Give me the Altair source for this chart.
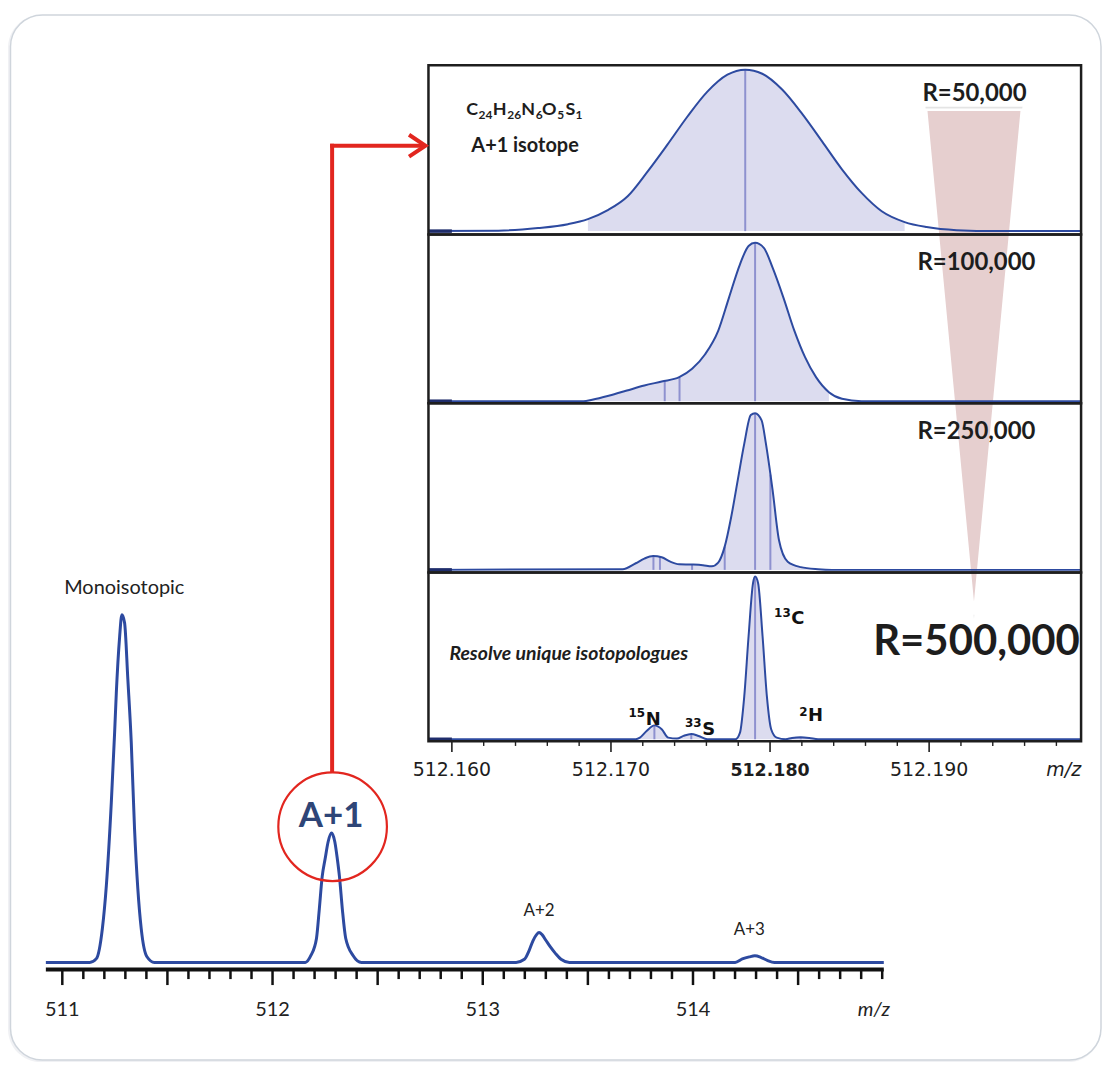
import altair as alt
import pandas as pd

# ---------------- data ----------------
# Main (low resolution) spectrum: m/z and relative intensity (%)
main_edge_mz = [510.9218, 514.9076]
mono_mz = [511.1303, 511.1621, 511.1905, 511.2095, 511.2332, 511.2488, 511.2569, 511.2725,
           511.2834, 511.2962, 511.3118, 511.3280, 511.3436, 511.3592, 511.3754, 511.4019, 511.4384]
mono_int = [0, 1.1, 9.7, 22.1, 46.1, 66.0, 77.5, 93.5, 100, 97.7, 81.4, 63.3, 38.4, 21.2, 9.7, 1.7, 0]
a1_mz = [512.1559, 512.1825, 512.2090, 512.2227, 512.2360, 512.2502, 512.2645, 512.2806,
         512.2962, 512.3081, 512.3185, 512.3318, 512.3483, 512.3829, 512.4232]
a1_int = [0, 2.0, 6.9, 15.5, 24.6, 29.8, 34.7, 37.2, 34.7, 29.8, 24.6, 15.5, 6.9, 2.0, 0]
a2_mz = [513.1583, 513.1981, 513.2204, 513.2393, 513.2559, 513.2678, 513.2820, 513.3009,
         513.3199, 513.3455, 513.3720, 513.4123]
a2_int = [0, 0.9, 3.4, 6.3, 8.0, 8.6, 8.0, 6.3, 4.6, 2.6, 0.9, 0]
a3_mz = [514.2005, 514.2346, 514.2678, 514.2943, 514.3246, 514.3531, 514.3877]
a3_int = [0, 1.0, 1.6, 1.9, 1.4, 0.6, 0]

main_ticks = [round(511.0 + 0.1 * i, 1) for i in range(40)]
main_label_vals = [511, 512, 513, 514]
main_labels = ["511", "512", "513", "514"]

# Inset: A+1 isotope at four resolving powers
res_labels = ["R=50,000", "R=100,000", "R=250,000", "R=500,000"]

p1_mz = [512.15853, 512.16291, 512.16542, 512.16730, 512.16855, 512.16980, 512.17105, 512.17231,
         512.17356, 512.17481, 512.17606, 512.17732, 512.17844, 512.17951, 512.18076, 512.18201,
         512.18327, 512.18452, 512.18577, 512.18702, 512.18846, 512.18984, 512.19172, 512.19423, 512.19955]
p1_int = [0, 0.3, 1.9, 4.3, 7.4, 13.0, 21.6, 37.0, 53.7, 71.0, 86.4, 96.9, 100, 97.5, 87.7, 72.8,
          55.6, 38.3, 23.5, 12.3, 5.6, 2.5, 0.6, 0, 0]
p1_fill = [512.16855, 512.18846]
p1_stick_mz = [512.17844]
p1_stick_int = [100]

p2_mz = [512.15853, 512.16596, 512.16827, 512.16882, 512.16991, 512.17100, 512.17210, 512.17319,
         512.17429, 512.17510, 512.17592, 512.17674, 512.17742, 512.17811, 512.17865, 512.17906,
         512.17961, 512.18016, 512.18084, 512.18152, 512.18220, 512.18289, 512.18370, 512.18452,
         512.18575, 512.19955]
p2_int = [0, 0, 0, 0.9, 3.5, 6.6, 9.7, 12.2, 14.9, 20.1, 29.1, 43.6, 64.2, 84.8, 96.2, 98.1,
          95.0, 82.7, 64.2, 43.9, 27.3, 14.9, 5.6, 1.5, 0, 0]
p2_fill = [512.16596, 512.18370]
p2_stick_mz = [512.17338, 512.17431, 512.17906]
p2_stick_int = [12.4, 14.9, 98.1]

p3_mz = [512.15853, 512.17073, 512.17156, 512.17210, 512.17265, 512.17319, 512.17373, 512.17429,
         512.17510, 512.17578, 512.17633, 512.17674, 512.17715, 512.17756, 512.17797, 512.17838,
         512.17879, 512.17906, 512.17947, 512.17974, 512.18016, 512.18056, 512.18111, 512.18193,
         512.18302, 512.18389, 512.19955]
p3_int = [0, 0.4, 4.1, 7.0, 8.6, 7.8, 5.1, 3.5, 3.3, 2.9, 2.2, 4.5, 14.4, 32.9, 55.6, 78.2,
          95.9, 97.1, 92.6, 78.2, 49.4, 18.5, 5.1, 1.7, 0.4, 0, 0]
p3_fill = [512.17073, 512.18302]
p3_stick_mz = [512.17267, 512.17308, 512.17510, 512.17715, 512.17906, 512.18002]
p3_stick_int = [8.6, 8.0, 3.3, 14.4, 97.1, 59.0]

p4_mz = [512.15853, 512.17156, 512.17182, 512.17224, 512.17273, 512.17319, 512.17360, 512.17415,
         512.17456, 512.17505, 512.17551, 512.17606, 512.17783, 512.17811, 512.17838, 512.17865,
         512.17893, 512.17906, 512.17925, 512.17953, 512.17980, 512.18007, 512.18042, 512.18098,
         512.18138, 512.18193, 512.18247, 512.18302, 512.19955]
p4_int = [0, 0, 1.0, 5.1, 8.6, 6.2, 1.0, 0.4, 2.1, 3.3, 2.0, 0, 0, 4.1, 26.7, 63.8,
          96.7, 100.8, 96.7, 63.8, 26.7, 6.2, 1.0, 0, 0.8, 1.2, 0.8, 0, 0]
p4_fill = [512.17156, 512.18302]
p4_h2_fill = [512.18098, 512.18302]
p4_stick_mz = [512.17273, 512.17505, 512.17906, 512.18193]
p4_stick_int = [8.6, 3.3, 100.8, 1.2]

iso_numbers = ["15", "33", "13", "2"]
iso_elements = ["N", "S", "C", "H"]

formula_elements = ["C", "H", "N", "O", "S"]
formula_counts = ["24", "26", "6", "5", "1"]

inset_ticks = [round(512.160 + 0.002 * i, 3) for i in range(20)]
inset_label_vals = [512.16, 512.17, 512.18, 512.19]
inset_labels = ["512.160", "512.170", "512.180", "512.190"]

# ---------------- layout helpers ----------------
W, H = 1098, 1056
OX = OY = 8


def cx(p):
    return p - OX


def cy(p):
    return p - OY


def xdom(v0, p0, v1, p1):
    k = (v1 - v0) / (p1 - p0)
    return [v0 + (OX - p0) * k, v0 + (OX + W - p0) * k]


def ydom(v0, p0, v1, p1):
    k = (v1 - v0) / (p1 - p0)
    return [v0 + (OY + H - p0) * k, v0 + (OY - p0) * k]


def sc(dom):
    return alt.Scale(domain=dom, nice=False, zero=False)


MAIN_X = xdom(511, 62.5, 514, 695.5)
MAIN_Y = ydom(0, 964, 100, 615)
INS_X = xdom(512.16, 453.5, 512.19, 932.5)
PANEL_BASE = [230, 400.7, 570, 740]
PANEL_Y = [ydom(0, b, 100, b - 162) for b in PANEL_BASE]
PB = [63.5, 233.3, 402.7, 572.7, 742]

BLUE = "#2d4aa0"
FILL = "#dcdcef"
STICK = "#8e91cf"
RED = "#e2261f"
TXT = "#1d1d1d"

one = pd.DataFrame({"k": [0]})


def deco():
    return alt.Chart(one)


def text(s, x, y, size, font="Lato", weight="normal", style="normal", align="center", color=TXT):
    return deco().mark_text(text=s, font=font, fontSize=size, fontWeight=weight, fontStyle=style,
                            align=align, baseline="alphabetic", color=color).encode(
        x=alt.value(cx(x)), y=alt.value(cy(y)))


layers = []

# card (soft shadow + card)
layers.append(deco().mark_rect(cornerRadius=33, fill="#eceef1", opacity=0.8).encode(
    x=alt.value(cx(8)), x2=alt.value(cx(1105)), y=alt.value(cy(13)), y2=alt.value(cy(1064))))
layers.append(deco().mark_rect(cornerRadius=32, fill="white", stroke="#cfd5dc", strokeWidth=1.5).encode(
    x=alt.value(cx(10.5)), x2=alt.value(cx(1105)), y=alt.value(cy(13)), y2=alt.value(cy(1062))))

# panel backgrounds
for i in range(4):
    layers.append(deco().mark_rect(fill="white").encode(
        x=alt.value(cx(430)), x2=alt.value(cx(1085)), y=alt.value(cy(PB[i])), y2=alt.value(cy(PB[i + 1]))))

# resolution triangle
tri_top, tri_apex = 108.3, 615
tri_h = tri_apex - tri_top
half = (1025 - 929) / tri_h
tri_path = f"M{-half:.4f},-1L{half:.4f},-1L0,1Z"
layers.append(deco().mark_point(shape=tri_path, size=(tri_h + 7) ** 2, filled=True, fill="#c4c4c4",
                                opacity=0.45, strokeWidth=0).encode(
    x=alt.value(cx(977.5)), y=alt.value(cy((tri_top + tri_apex) / 2 + 0.5))))
layers.append(deco().mark_point(shape=tri_path, size=tri_h ** 2, filled=True, fill="#e6cfcf",
                                stroke="white", strokeWidth=2.5, opacity=1).encode(
    x=alt.value(cx(977.5)), y=alt.value(cy((tri_top + tri_apex) / 2))))

# panels
panels = [
    (p1_mz, p1_int, p1_fill, p1_stick_mz, p1_stick_int),
    (p2_mz, p2_int, p2_fill, p2_stick_mz, p2_stick_int),
    (p3_mz, p3_int, p3_fill, p3_stick_mz, p3_stick_int),
    (p4_mz, p4_int, p4_fill, p4_stick_mz, p4_stick_int),
]
for i, (mz, inten, fill, smz, sint) in enumerate(panels):
    df = pd.DataFrame({"mz": mz, "inten": inten})
    xe = alt.X("mz:Q", scale=sc(INS_X), axis=None)
    ye = alt.Y("inten:Q", scale=sc(PANEL_Y[i]), axis=None)
    lo, hi = fill
    layers.append(alt.Chart(df).transform_filter(
        f"datum.mz >= {lo - 1e-7} && datum.mz <= {hi + 1e-7}").mark_area(
        color=FILL, interpolate="monotone", opacity=1).encode(x=xe, y=ye, y2=alt.datum(0)))
    if i == 3:
        lo2, hi2 = p4_h2_fill
        layers.append(alt.Chart(df).transform_filter(
            f"datum.mz >= {lo2 - 1e-7} && datum.mz <= {hi2 + 1e-7}").mark_area(
            color="#b3b7de", interpolate="monotone", opacity=1).encode(x=xe, y=ye, y2=alt.datum(0)))
    sdf = pd.DataFrame({"mz": smz, "inten": sint})
    layers.append(alt.Chart(sdf).mark_rule(color=STICK, strokeWidth=2).encode(
        x=xe, y=ye, y2=alt.datum(0)))
    layers.append(alt.Chart(df).mark_line(color=BLUE, strokeWidth=2, interpolate="monotone").encode(
        x=xe, y=ye))
    # dark stub at the left of each baseline
    stub = pd.DataFrame({"mz": [p1_mz[0]], "mz2": [512.16], "inten": [0]})
    layers.append(alt.Chart(stub).mark_rule(color="#1f2d6b", strokeWidth=3.5).encode(
        x=xe, x2="mz2:Q", y=ye))

# panel borders
for i in range(4):
    layers.append(deco().mark_rect(fillOpacity=0, stroke="#1e1e1e", strokeWidth=2.5).encode(
        x=alt.value(cx(430)), x2=alt.value(cx(1085)), y=alt.value(cy(PB[i])), y2=alt.value(cy(PB[i + 1]))))

# inset axis ticks and labels
tdf = pd.DataFrame({"mz": inset_ticks})
tdf["major"] = [abs(t * 100 - round(t * 100)) < 1e-6 for t in inset_ticks]
layers.append(alt.Chart(tdf[tdf["major"]]).mark_rule(color="#1e1e1e", strokeWidth=1.6).encode(
    x=alt.X("mz:Q", scale=sc(INS_X), axis=None), y=alt.value(cy(742)), y2=alt.value(cy(752.7))))
layers.append(alt.Chart(tdf[~tdf["major"]]).mark_rule(color="#1e1e1e", strokeWidth=1.4).encode(
    x=alt.X("mz:Q", scale=sc(INS_X), axis=None), y=alt.value(cy(742)), y2=alt.value(cy(746.7))))
ldf = pd.DataFrame({"mz": inset_label_vals, "lab": inset_labels})
layers.append(alt.Chart(ldf[ldf["lab"] != "512.180"]).mark_text(
    font="DejaVu Sans", fontSize=19, baseline="alphabetic", color=TXT).encode(
    x=alt.X("mz:Q", scale=sc(INS_X), axis=None), y=alt.value(cy(776.7)), text="lab:N"))
layers.append(alt.Chart(ldf[ldf["lab"] == "512.180"]).mark_text(
    font="DejaVu Sans", fontSize=17.5, fontWeight="bold", baseline="alphabetic", color=TXT).encode(
    x=alt.X("mz:Q", scale=sc(INS_X), axis=None), y=alt.value(cy(776.7)), text="lab:N"))
layers.append(text("m/z", 1085, 776.7, 19, font="DejaVu Sans", style="italic", align="right"))

# inset texts: molecular formula built from element symbols and subscript counts
el_x = [468, 494.5, 523.2, 544, 567.5]
cnt_x = [480.3, 509.2, 537.8, 559.2, 577.5]
for el, n, ex, nx in zip(formula_elements, formula_counts, el_x, cnt_x):
    layers.append(text(el, ex, 113.3, 18, weight="bold", align="left"))
    layers.append(text(n, nx, 117.5, 12, weight="bold", align="left"))
layers.append(text("A+1 isotope", 473, 150.7, 20, weight="bold", align="left"))
layers.append(text("Resolve unique isotopologues", 451, 660.7, 19.5, weight="bold", style="italic", align="left"))
r_pos = [(978, 99.3, 24), (980, 269.3, 24), (980, 438.3, 24), (980, 655, 42)]
for lab, (x, y, s) in zip(res_labels, r_pos):
    layers.append(text(lab, x, y, s, weight="bold"))

# isotopologue labels (superscript mass number + element)
iso_pos = [(647.5, 718, 726), (704.2, 728, 735.7), (793.6, 617.5, 624.3), (810.5, 716.5, 721.7)]
for num, el, (bx, ny, ey) in zip(iso_numbers, iso_elements, iso_pos):
    layers.append(text(num, bx, ny, 12, font="DejaVu Sans", weight="bold", align="right", color="#111"))
    layers.append(text(el, bx + 0.5, ey, 18, font="DejaVu Sans", weight="bold", align="left", color="#111"))

# main spectrum
main_df = pd.DataFrame({
    "mz": [main_edge_mz[0]] + mono_mz + a1_mz + a2_mz + a3_mz + [main_edge_mz[1]],
    "inten": [0] + mono_int + a1_int + a2_int + a3_int + [0],
})
layers.append(alt.Chart(main_df).mark_line(color=BLUE, strokeWidth=3, interpolate="monotone").encode(
    x=alt.X("mz:Q", scale=sc(MAIN_X), axis=None), y=alt.Y("inten:Q", scale=sc(MAIN_Y), axis=None)))

# main axis
layers.append(deco().mark_rule(color="#111", strokeWidth=4).encode(
    x=alt.value(cx(46)), x2=alt.value(cx(887)), y=alt.value(cy(971))))
mdf = pd.DataFrame({"mz": main_ticks})
mdf["major"] = [abs(t * 2 - round(t * 2)) < 1e-6 for t in main_ticks]
layers.append(alt.Chart(mdf[mdf["major"]]).mark_rule(color="#111", strokeWidth=2.5).encode(
    x=alt.X("mz:Q", scale=sc(MAIN_X), axis=None), y=alt.value(cy(971)), y2=alt.value(cy(986.7))))
layers.append(alt.Chart(mdf[~mdf["major"]]).mark_rule(color="#111", strokeWidth=2.5).encode(
    x=alt.X("mz:Q", scale=sc(MAIN_X), axis=None), y=alt.value(cy(971)), y2=alt.value(cy(980.7))))
mldf = pd.DataFrame({"mz": main_label_vals, "lab": main_labels})
layers.append(alt.Chart(mldf).mark_text(font="Lato", fontSize=20, baseline="alphabetic", color="#222").encode(
    x=alt.X("mz:Q", scale=sc(MAIN_X), axis=None), y=alt.value(cy(1018)), text="lab:N"))
layers.append(text("m/z", 877, 1018, 20, style="italic", color="#222"))

# peak labels
layers.append(text("Monoisotopic", 124.7, 594, 20, color="#222"))
layers.append(text("A+2", 541, 917.5, 17, color="#222"))
layers.append(text("A+3", 752, 936.5, 17, color="#222"))
layers.append(text("A+1", 332.3, 828.3, 35, weight="bold", color="#2e4577"))

# red highlight circle and connector arrow
layers.append(deco().mark_point(shape="circle", size=109 ** 2, filled=False, stroke=RED,
                                strokeWidth=2.2, opacity=1).encode(
    x=alt.value(cx(333.8)), y=alt.value(cy(827.8))))
layers.append(deco().mark_rule(color=RED, strokeWidth=4).encode(
    x=alt.value(cx(333.3)), y=alt.value(cy(142.3)), y2=alt.value(cy(773.3))))
layers.append(deco().mark_rule(color=RED, strokeWidth=4).encode(
    x=alt.value(cx(331.3)), x2=alt.value(cx(426)), y=alt.value(cy(144.3))))
layers.append(deco().mark_point(shape="M-1.5,-1L0,0L-1.5,1", size=484, filled=False, stroke=RED,
                                strokeWidth=4, opacity=1).encode(
    x=alt.value(cx(427)), y=alt.value(cy(144.3))))

chart = alt.layer(*layers).resolve_scale(x="independent", y="independent").properties(
    width=W, height=H, padding=0, background="white",
    autosize=alt.AutoSizeParams(type="none"),
).configure_view(stroke=None)

chart.save("out.html", embed_options={"renderer": "svg", "actions": False})
